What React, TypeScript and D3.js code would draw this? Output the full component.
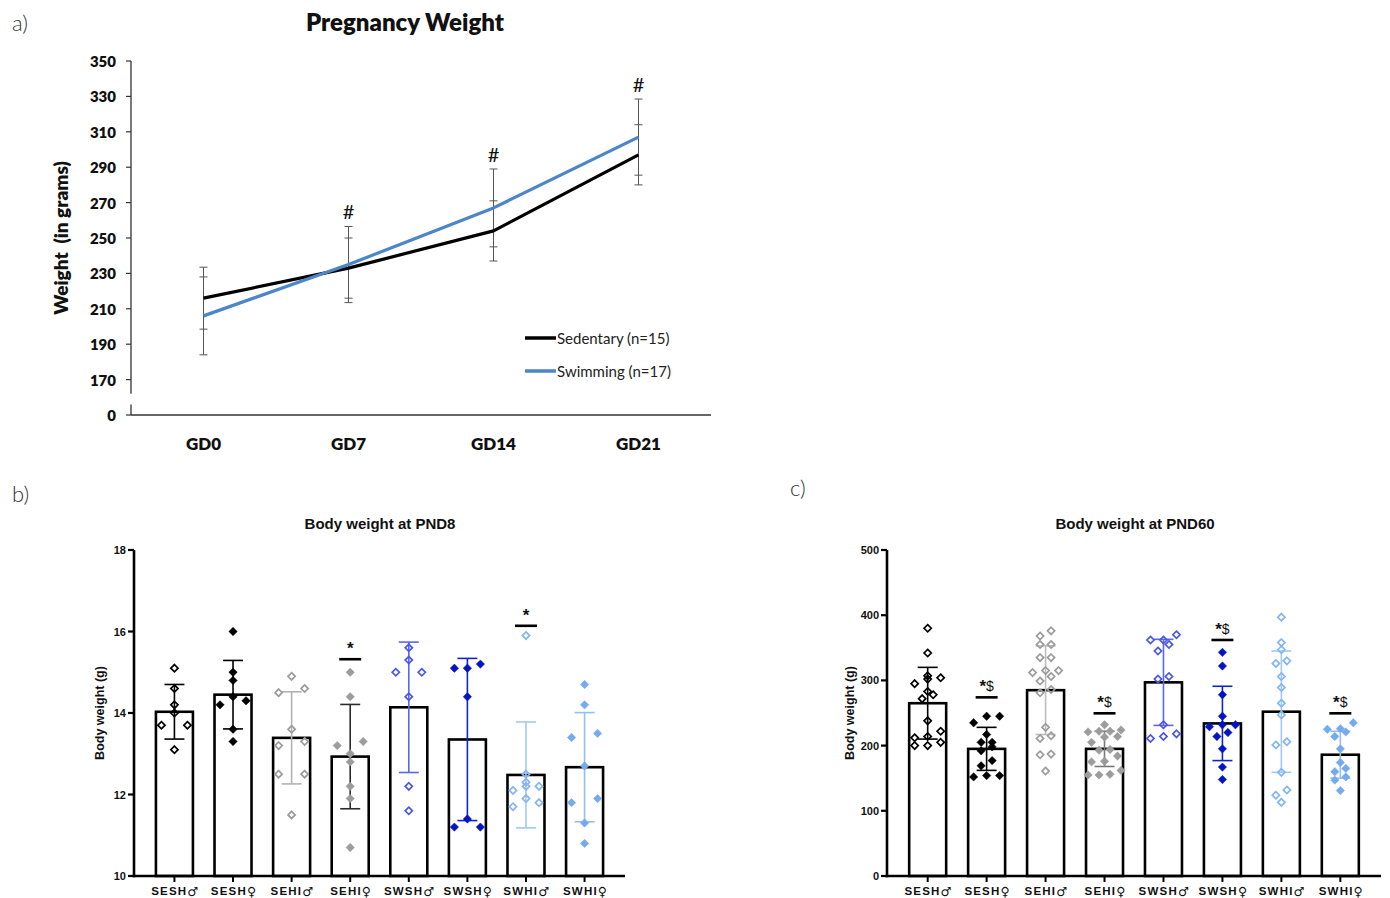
import React from 'react';
import * as d3 from 'd3';

// ---------- Panel a data ----------
const gdLabels = ['GD0', 'GD7', 'GD14', 'GD21'];
const sedentaryMean = [216, 233, 254, 297];
const sedentarySD = [17.5, 17, 17, 17];
const swimmingMean = [206, 235, 267, 307];
const swimmingSD = [22, 21.5, 22, 21.5];
const pregTicks = [170, 190, 210, 230, 250, 270, 290, 310, 330, 350];
const pregHash = ['', '#', '#', '#'];
const legendLabels = ['Sedentary (n=15)', 'Swimming (n=17)'];

// ---------- Panels b / c data ----------
const groupLabels = ['SESH♂', 'SESH♀', 'SEHI♂', 'SEHI♀', 'SWSH♂', 'SWSH♀', 'SWHI♂', 'SWHI♀'];

const pnd8Mean = [14.03, 14.45, 13.39, 12.93, 14.14, 13.35, 12.48, 12.67];
const pnd8SD = [0.67, 0.84, 1.13, 1.28, 1.6, 1.99, 1.3, 1.34];
const pnd8Points = [
  [15.1, 14.6, 14.2, 14.0, 13.7, 13.7, 13.1],
  [16.0, 15.0, 14.8, 14.4, 14.3, 14.2, 13.6, 13.3],
  [14.9, 14.6, 14.5, 13.6, 13.3, 13.2, 12.5, 12.5, 11.5],
  [15.0, 14.4, 13.3, 13.2, 13.0, 12.8, 12.2, 11.9, 10.7],
  [15.6, 15.3, 15.0, 15.0, 14.4, 12.2, 11.6],
  [15.2, 15.1, 15.1, 14.4, 11.4, 11.2, 11.2],
  [15.9, 12.5, 12.3, 12.2, 12.2, 12.1, 11.9, 11.8, 11.7],
  [14.7, 14.2, 13.5, 13.4, 12.7, 11.9, 11.8, 11.3, 10.8],
];
const pnd8Ticks = [10, 12, 14, 16, 18];
const pnd8Sig = ['', '', '', '*', '', '', '*', ''];
const pnd8SigLevel = [0, 0, 0, 15.32, 0, 0, 16.14, 0];

const pnd60Mean = [265, 195, 285, 195, 297, 234, 252, 186];
const pnd60SD = [55, 33, 68, 27, 66, 57, 93, 36];
const pnd60Points = [
  [380, 342, 307, 304, 302, 295, 283, 278, 272, 238, 222, 214, 212, 205, 200, 200],
  [245, 245, 235, 217, 205, 205, 198, 192, 177, 169, 154, 154, 152],
  [376, 368, 355, 355, 335, 335, 315, 315, 312, 306, 299, 286, 281, 228, 215, 211, 187, 186, 161],
  [232, 224, 222, 222, 221, 214, 213, 205, 194, 193, 184, 176, 175, 162, 156, 155, 155],
  [370, 362, 362, 355, 345, 306, 302, 232, 218, 214, 211],
  [343, 322, 278, 245, 232, 232, 229, 220, 214, 195, 167, 148],
  [397, 358, 347, 330, 326, 306, 289, 265, 247, 206, 201, 159, 132, 124, 113],
  [235, 226, 225, 221, 214, 195, 174, 165, 160, 152, 147, 131],
];
const pnd60Ticks = [0, 100, 200, 300, 400, 500];
const pnd60Sig = ['', '*$', '', '*$', '', '*$', '', '*$'];
const pnd60SigLevel = [0, 274, 0, 249.5, 0, 362, 0, 249.5];

// ---------- styles ----------
const pointColors = ['#000000', '#000000', '#9c9c9c', '#9c9c9c', '#4b58e6', '#0414c4', '#84b6f4', '#74aaf0'];
const pointFilled = [false, true, false, true, false, true, false, true];
const errColorsB = ['#000000', '#000000', '#b2b2b2', '#2a2a2a', '#5a66ec', '#1024cc', '#a0c8f7', '#92c0f6'];
const errColorsC = ['#000000', '#000000', '#bdbdbd', '#7a7a7a', '#5a66ec', '#1024cc', '#a0c8f7', '#92c0f6'];

const ARIAL = '"Liberation Sans", Arial, "DejaVu Sans", sans-serif';
const CAL = 'Lato, "Open Sans", sans-serif';

function rowLayout(vals: number[], py: (v: number) => number, thresh: number, dOdd: number, dEven: number) {
  const order = vals.map((_, i) => i).sort((a, b) => vals[a] - vals[b]);
  const rows: number[][] = [];
  let cur: number[] = [];
  let y0 = 0;
  order.forEach((i) => {
    const p = py(vals[i]);
    if (cur.length && Math.abs(p - y0) < thresh) cur.push(i);
    else {
      if (cur.length) rows.push(cur);
      cur = [i];
      y0 = p;
    }
  });
  if (cur.length) rows.push(cur);
  const dx = vals.map(() => 0);
  rows.forEach((r) => {
    const n = r.length;
    const d = n % 2 ? dOdd : dEven;
    r.forEach((i, k) => {
      dx[i] = (k - (n - 1) / 2) * d;
    });
  });
  return dx;
}

function diamond(cx: number, cy: number, r: number) {
  return `M${cx},${cy - r}L${cx + r},${cy}L${cx},${cy + r}L${cx - r},${cy}Z`;
}

function PanelA() {
  const x = d3.scalePoint<string>().domain(gdLabels).range([131, 711]).padding(0.5);
  const y = d3.scaleLinear().domain([150, 350]).range([415, 61]);
  const line = d3
    .line<number>()
    .x((_, i) => x(gdLabels[i]) as number)
    .y((d) => y(d));
  const series = [
    { mean: sedentaryMean, sd: sedentarySD, color: '#000000' },
    { mean: swimmingMean, sd: swimmingSD, color: '#4a86c8' },
  ];
  return (
    <g>
      <text x={12} y={22} fontFamily={CAL} fontWeight={300} fontSize={22} fill="#333" dominantBaseline="central">
        a)
      </text>
      <text x={405} y={21} fontFamily={CAL} fontWeight={800} fontSize={24} fill="#111" textAnchor="middle" dominantBaseline="central">
        Pregnancy Weight
      </text>
      {/* y axis with break */}
      <line x1={131} x2={131} y1={y(350)} y2={y(162)} stroke="#333" strokeWidth={1.3} />
      <line x1={131} x2={131} y1={y(156)} y2={y(150)} stroke="#333" strokeWidth={1.3} />
      <line x1={131} x2={711} y1={y(150)} y2={y(150)} stroke="#333" strokeWidth={1.3} />
      {pregTicks.map((t) => (
        <g key={t}>
          <line x1={126} x2={131} y1={y(t)} y2={y(t)} stroke="#333" strokeWidth={1.2} />
          <text x={116} y={y(t)} textAnchor="end" dominantBaseline="central" fontFamily={CAL} fontWeight={800} fontSize={15} fill="#111">
            {t}
          </text>
        </g>
      ))}
      <line x1={126} x2={131} y1={y(150)} y2={y(150)} stroke="#333" strokeWidth={1.2} />
      <text x={116} y={y(150)} textAnchor="end" dominantBaseline="central" fontFamily={CAL} fontWeight={800} fontSize={15} fill="#111">
        0
      </text>
      {gdLabels.map((g) => (
        <text key={g} x={x(g)} y={443} textAnchor="middle" dominantBaseline="central" fontFamily={CAL} fontWeight={800} fontSize={17} fill="#111">
          {g}
        </text>
      ))}
      <text
        transform={`translate(60,238) rotate(-90)`}
        textAnchor="middle"
        dominantBaseline="central"
        fontFamily={CAL}
        fontWeight={800}
        fontSize={19}
        fill="#111"
        style={{ whiteSpace: 'pre' }}
      >
        {'Weight  (in grams)'}
      </text>
      {/* error bars */}
      {series.map((s, si) =>
        s.mean.map((m, i) => {
          const cx = x(gdLabels[i]) as number;
          const top = y(m + s.sd[i]);
          const bot = y(m - s.sd[i]);
          return (
            <g key={`e${si}-${i}`} stroke="#555" strokeWidth={1}>
              <line x1={cx} x2={cx} y1={top} y2={bot} />
              <line x1={cx - 4} x2={cx + 4} y1={top} y2={top} />
              <line x1={cx - 4} x2={cx + 4} y1={bot} y2={bot} />
            </g>
          );
        })
      )}
      {series.map((s, si) => (
        <path key={`l${si}`} d={line(s.mean) as string} fill="none" stroke={s.color} strokeWidth={3.2} strokeLinejoin="round" />
      ))}
      {pregHash.map((h, i) =>
        h ? (
          <text
            key={`h${i}`}
            x={x(gdLabels[i])}
            y={y(Math.max(sedentaryMean[i] + sedentarySD[i], swimmingMean[i] + swimmingSD[i])) - 15}
            textAnchor="middle"
            dominantBaseline="central"
            fontFamily={CAL}
            fontSize={20}
            fill="#111"
          >
            {h}
          </text>
        ) : null
      )}
      {series.map((s, si) => (
        <g key={`lg${si}`}>
          <line x1={525} x2={556} y1={338 + si * 33} y2={338 + si * 33} stroke={s.color} strokeWidth={3.5} />
          <text x={557} y={338 + si * 33} dominantBaseline="central" fontFamily={CAL} fontSize={15} fill="#222">
            {legendLabels[si]}
          </text>
        </g>
      ))}
    </g>
  );
}

type BarProps = {
  x0: number;
  x1: number;
  yDomain: [number, number];
  ticks: number[];
  means: number[];
  sds: number[];
  points: number[][];
  sig: string[];
  sigLevel: number[];
  errColors: string[];
  title: string;
  titleX: number;
  letter: string;
  letterX: number;
  letterY: number;
  yTitleX: number;
  dOdd: number;
  dEven: number;
};

function BarPanel(p: BarProps) {
  const x = d3.scalePoint<string>().domain(groupLabels).range([p.x0, p.x1]).padding(0.69);
  const y = d3.scaleLinear().domain(p.yDomain).range([876, 550]);
  const bw = 37;
  const base = y(p.yDomain[0]);
  return (
    <g>
      <text x={p.letterX} y={p.letterY} fontFamily={CAL} fontWeight={300} fontSize={22} fill="#333" dominantBaseline="central">
        {p.letter}
      </text>
      <text x={p.titleX} y={523} textAnchor="middle" dominantBaseline="central" fontFamily={ARIAL} fontWeight={700} fontSize={15} fill="#111">
        {p.title}
      </text>
      <text
        transform={`translate(${p.yTitleX},713) rotate(-90)`}
        textAnchor="middle"
        dominantBaseline="central"
        fontFamily={ARIAL}
        fontWeight={700}
        fontSize={12.5}
        fill="#111"
      >
        Body weight (g)
      </text>
      {/* bars */}
      {p.means.map((m, i) => {
        const cx = x(groupLabels[i]) as number;
        return (
          <rect key={`b${i}`} x={cx - bw / 2} y={y(m)} width={bw} height={base - y(m)} fill="#fff" stroke="#000" strokeWidth={2.6} />
        );
      })}
      {/* error bars */}
      {p.means.map((m, i) => {
        const cx = x(groupLabels[i]) as number;
        const top = y(m + p.sds[i]);
        const bot = y(m - p.sds[i]);
        return (
          <g key={`e${i}`} stroke={p.errColors[i]} strokeWidth={1.6}>
            <line x1={cx} x2={cx} y1={top} y2={bot} />
            <line x1={cx - 10} x2={cx + 10} y1={top} y2={top} />
            <line x1={cx - 10} x2={cx + 10} y1={bot} y2={bot} />
          </g>
        );
      })}
      {/* points */}
      {p.points.map((vals, i) => {
        const cx = x(groupLabels[i]) as number;
        const dx = rowLayout(vals, (v) => y(v), 7, p.dOdd, p.dEven);
        return (
          <g key={`p${i}`}>
            {vals.map((v, k) => (
              <path
                key={k}
                d={diamond(cx + dx[k], y(v), pointFilled[i] ? 4.2 : 3.6)}
                fill={pointFilled[i] ? pointColors[i] : 'none'}
                stroke={pointColors[i]}
                strokeWidth={pointFilled[i] ? 0.5 : 1.7}
              />
            ))}
          </g>
        );
      })}
      {/* significance */}
      {p.sig.map((s, i) => {
        if (!s) return null;
        const cx = x(groupLabels[i]) as number;
        const ly = y(p.sigLevel[i]);
        return (
          <g key={`s${i}`}>
            <line x1={cx - 11} x2={cx + 11} y1={ly} y2={ly} stroke="#000" strokeWidth={2.6} />
            <text x={cx} y={ly - 5} textAnchor="middle" fontFamily={ARIAL} fill="#111">
              <tspan fontSize={17} fontWeight={700}>*</tspan>
              {s.length > 1 ? (
                <tspan fontSize={14} fontWeight={400} dy={-1}>
                  {s.slice(1)}
                </tspan>
              ) : null}
            </text>
          </g>
        );
      })}
      {/* axes */}
      <line x1={p.x0} x2={p.x0} y1={550} y2={base + 1.3} stroke="#000" strokeWidth={2.6} />
      <line x1={p.x0 - 1.3} x2={p.x1} y1={base} y2={base} stroke="#000" strokeWidth={2.6} />
      {p.ticks.map((t) => (
        <g key={`t${t}`}>
          <line x1={p.x0 - 6} x2={p.x0} y1={y(t)} y2={y(t)} stroke="#000" strokeWidth={2.2} />
          <text x={p.x0 - 8} y={y(t)} textAnchor="end" dominantBaseline="central" fontFamily={ARIAL} fontWeight={700} fontSize={11} fill="#111">
            {t}
          </text>
        </g>
      ))}
      {groupLabels.map((g) => (
        <g key={`x${g}`}>
          <line x1={x(g)} x2={x(g)} y1={base} y2={base + 6} stroke="#000" strokeWidth={2} />
          <text
            x={(x(g) as number) + 1}
            y={891}
            textAnchor="middle"
            dominantBaseline="central"
            fontFamily={ARIAL}
            fontWeight={700}
            fontSize={11.5}
            letterSpacing={1.2}
            fill="#111"
          >
            {g.slice(0, -1)}
            <tspan fontFamily='"DejaVu Sans", sans-serif' fontSize={12.5} fontWeight={700}>
              {g.slice(-1)}
            </tspan>
          </text>
        </g>
      ))}
    </g>
  );
}

export default function App() {
  return (
    <svg width={1390} height={898} style={{ position: 'absolute', left: 0, top: 0, background: '#fff' }}>
      <rect width={1390} height={898} fill="#fff" />
      <PanelA />
      <BarPanel
        x0={134}
        x1={625}
        yDomain={[10, 18]}
        ticks={pnd8Ticks}
        means={pnd8Mean}
        sds={pnd8SD}
        points={pnd8Points}
        sig={pnd8Sig}
        sigLevel={pnd8SigLevel}
        errColors={errColorsB}
        title="Body weight at PND8"
        titleX={380}
        letter="b)"
        letterX={12}
        letterY={493}
        yTitleX={100}
        dOdd={13}
        dEven={26}
      />
      <BarPanel
        x0={887}
        x1={1381}
        yDomain={[0, 500]}
        ticks={pnd60Ticks}
        means={pnd60Mean}
        sds={pnd60SD}
        points={pnd60Points}
        sig={pnd60Sig}
        sigLevel={pnd60SigLevel}
        errColors={errColorsC}
        title="Body weight at PND60"
        titleX={1135}
        letter="c)"
        letterX={790}
        letterY={487}
        yTitleX={850}
        dOdd={13}
        dEven={11}
      />
    </svg>
  );
}
